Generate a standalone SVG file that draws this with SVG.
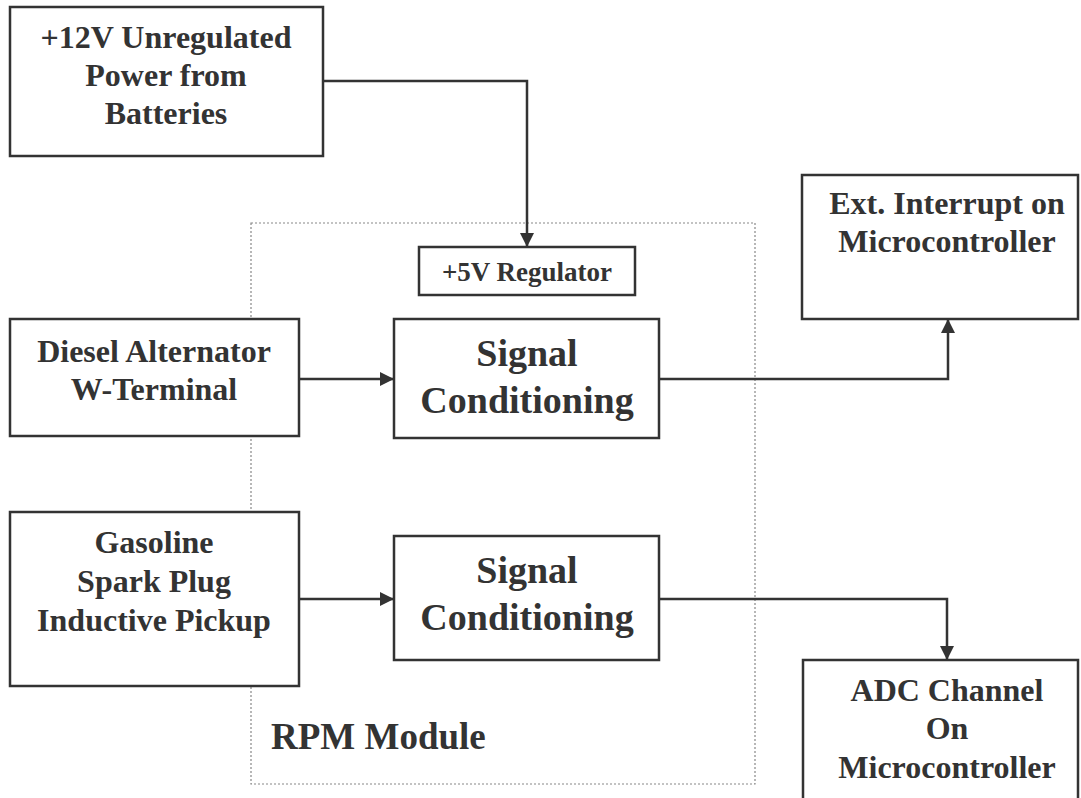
<svg xmlns="http://www.w3.org/2000/svg" width="1081" height="798" viewBox="0 0 1081 798">
<style>
.box{fill:#fff;stroke:#333;stroke-width:2.5}
.t{font-family:"Liberation Serif","Times New Roman",serif;font-weight:bold;fill:#333;text-anchor:middle}
.m{font-size:32px}
.l{font-size:38px}
.c{fill:none;stroke:#333;stroke-width:2.5}
</style>
<defs>
<marker id="a" viewBox="0 0 14 14" refX="14" refY="7" markerWidth="14" markerHeight="14" orient="auto" markerUnits="userSpaceOnUse"><path d="M0,0 L14,7 L0,14 z" fill="#333"/></marker>
</defs>
<rect id="module" x="251" y="223" width="504" height="561" fill="none" stroke="#888" stroke-width="1.2" stroke-dasharray="2,2"/>
<g id="battery"><rect class="box" x="10" y="7" width="313" height="149"/>
<text class="t m" x="166" y="48">+12V Unregulated</text>
<text class="t m" x="166" y="86">Power from</text>
<text class="t m" x="166" y="124">Batteries</text></g>
<g id="regulator"><rect class="box" x="419" y="247" width="216" height="48"/>
<text class="t" style="font-size:27px" x="527" y="281">+5V Regulator</text></g>
<g id="diesel"><rect class="box" x="10" y="319" width="289" height="117"/>
<text class="t m" x="154" y="362">Diesel Alternator</text>
<text class="t m" x="154" y="400">W-Terminal</text></g>
<g id="sig1"><rect class="box" x="394" y="319" width="265" height="119"/>
<text class="t l" x="527" y="366">Signal</text>
<text class="t l" x="527" y="413">Conditioning</text></g>
<g id="gasoline"><rect class="box" x="10" y="512" width="289" height="174"/>
<text class="t m" x="154" y="553">Gasoline</text>
<text class="t m" x="154" y="592">Spark Plug</text>
<text class="t m" x="154" y="631">Inductive Pickup</text></g>
<g id="sig2"><rect class="box" x="394" y="536" width="265" height="124"/>
<text class="t l" x="527" y="583">Signal</text>
<text class="t l" x="527" y="630">Conditioning</text></g>
<g id="ext"><rect class="box" x="802" y="175" width="276" height="144"/>
<text class="t m" x="947" y="214">Ext. Interrupt on</text>
<text class="t m" x="947" y="252">Microcontroller</text></g>
<g id="adc"><rect class="box" x="803" y="660" width="275" height="160"/>
<text class="t m" x="947" y="701">ADC Channel</text>
<text class="t m" x="947" y="739">On</text>
<text class="t m" x="947" y="778">Microcontroller</text></g>
<text id="label" class="t" style="font-size:37px;text-anchor:start" x="271" y="749">RPM Module</text>
<g id="connectors">
<path class="c" d="M323,81 H527 V247" marker-end="url(#a)"/>
<path class="c" d="M299,379 H394" marker-end="url(#a)"/>
<path class="c" d="M659,379 H948 V319" marker-end="url(#a)"/>
<path class="c" d="M299,599 H394" marker-end="url(#a)"/>
<path class="c" d="M659,599 H947 V660" marker-end="url(#a)"/>
</g>
</svg>
